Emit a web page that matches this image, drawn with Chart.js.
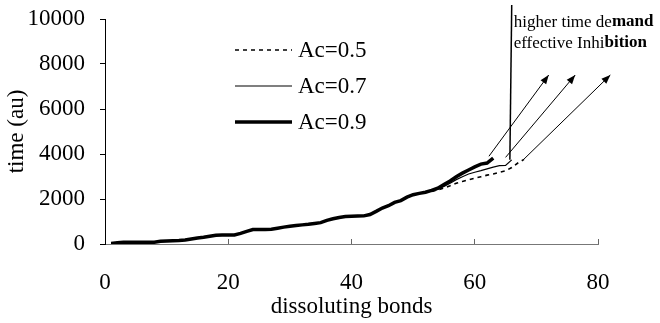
<!DOCTYPE html>
<html>
<head>
<meta charset="utf-8">
<script src="https://cdn.jsdelivr.net/npm/chart.js@4.4.0/dist/chart.umd.min.js"></script>
<style>
  html, body { margin: 0; padding: 0; background: #fff; }
</style>
</head>
<body>
<canvas id="timeChart" width="660" height="323"></canvas>
<script>
// dissoluting bonds (x) and time values
var bonds = [1, 2, 3, 4, 5, 6, 7, 8, 9, 10, 11, 12, 13, 14, 15, 16, 17, 18, 19, 20,
  21, 22, 23, 24, 25, 26, 27, 28, 29, 30, 31, 32, 33, 34, 35, 36, 37, 38, 39, 40,
  41, 42, 43, 44, 45, 46, 47, 48, 49, 50, 51, 52, 53, 54, 55, 56, 57, 58, 59, 60,
  61, 62, 63, 64, 65, 66, 67, 68];

// bonds 1..52, where the three curves lie on top of each other
var sharedTime = [20, 60, 75, 75, 75, 75, 75, 80, 125, 135, 145, 155, 175, 220, 265, 300,
  345, 390, 400, 400, 405, 470, 560, 640, 650, 650, 655, 700, 750, 790, 820, 850, 875,
  910, 950, 1050, 1120, 1180, 1220, 1230, 1240, 1250, 1310, 1450, 1600, 1700, 1850,
  1930, 2080, 2190, 2250, 2300];

// bonds 53.. for each curve
var tailAc05 = [2330, 2400, 2490, 2590, 2700, 2780, 2850, 2920, 2990, 3060, 3110, 3190, 3250, 3400, 3600, 3760];
var tailAc07 = [2350, 2430, 2560, 2700, 2860, 2990, 3110, 3190, 3260, 3340, 3420, 3480, 3490, 3740];
var tailAc09 = [2380, 2480, 2640, 2800, 2990, 3150, 3290, 3430, 3550, 3600, 3820];

var seriesLabels = ['Ac=0.5', 'Ac=0.7', 'Ac=0.9'];
var xTickValues = [0, 20, 40, 60, 80];
var yTickValues = [0, 2000, 4000, 6000, 8000, 10000];

// annotation: arrows [x0, y0, x1, y1], callout line and note text
var arrowLines = [[62.3, 3900, 72.0, 7510], [65.0, 3850, 76.3, 7510], [67.9, 3750, 82.0, 7510]];
var calloutLine = [[65.7, 3740], [66.0, 10620]];
var noteLines = [['higher time de', 'mand'], ['effective Inhi', 'bition']];

var SERIF = "'Liberation Serif', 'Times New Roman', serif";

function toPoints(values) {
    return values.map(function(v, i) { return {x: bonds[i], y: v}; });
}

var lineData = [
    toPoints(sharedTime.concat(tailAc05)),
    toPoints(sharedTime.concat(tailAc07)),
    toPoints(sharedTime.concat(tailAc09))
];

var datasets = [{
    label: seriesLabels[0], data: lineData[0],
    borderColor: '#000', borderWidth: 1.6, borderDash: [4, 4]
}, {
    label: seriesLabels[1], data: lineData[1],
    borderColor: '#000', borderWidth: 1.2
}, {
    label: seriesLabels[2], data: lineData[2],
    borderColor: '#000', borderWidth: 3.5
}];

arrowLines.forEach(function(a) {
    datasets.push({
        label: 'arrow', isArrow: true, clip: false,
        data: [{x: a[0], y: a[1]}, {x: a[2], y: a[3]}],
        borderColor: '#000', borderWidth: 1
    });
});
datasets.push({
    label: 'callout', isCallout: true, clip: false,
    data: calloutLine.map(function(p) { return {x: p[0], y: p[1]}; }),
    borderColor: '#000', borderWidth: 1.5
});

var annotationPlugin = {
    id: 'annotations',
    afterDatasetsDraw: function(chart) {
        var ctx = chart.ctx;
        var area = chart.chartArea;
        ctx.save();

        // arrow heads
        chart.data.datasets.forEach(function(ds, i) {
            if (!ds.isArrow) return;
            var pts = chart.getDatasetMeta(i).data;
            var p0 = pts[0], p1 = pts[1];
            var ang = Math.atan2(p1.y - p0.y, p1.x - p0.x);
            ctx.fillStyle = '#000';
            ctx.beginPath();
            ctx.moveTo(p1.x, p1.y);
            ctx.lineTo(p1.x - 9 * Math.cos(ang) + 3.5 * Math.sin(ang), p1.y - 9 * Math.sin(ang) - 3.5 * Math.cos(ang));
            ctx.lineTo(p1.x - 9 * Math.cos(ang) - 3.5 * Math.sin(ang), p1.y - 9 * Math.sin(ang) + 3.5 * Math.cos(ang));
            ctx.closePath();
            ctx.fill();
        });

        // note next to the callout line
        var cIdx = chart.data.datasets.findIndex(function(ds) { return ds.isCallout; });
        var top = chart.getDatasetMeta(cIdx).data[1];
        ctx.fillStyle = '#000';
        ctx.textBaseline = 'middle';
        ctx.textAlign = 'left';
        noteLines.forEach(function(parts, r) {
            var x = top.x + 2;
            var y = top.y + 17 + r * 21;
            ctx.font = '17px ' + SERIF;
            ctx.fillText(parts[0], x, y);
            x += ctx.measureText(parts[0]).width;
            ctx.font = 'bold 17px ' + SERIF;
            ctx.fillText(parts[1], x, y);
        });

        // legend inside the plot area
        var lx = area.left + 130;
        var ly = area.top + 31;
        for (var k = 0; k < 3; k++) {
            var ds = chart.data.datasets[k];
            var y = ly + k * 36;
            ctx.strokeStyle = ds.borderColor;
            ctx.lineWidth = ds.borderWidth;
            ctx.setLineDash(ds.borderDash || []);
            ctx.beginPath();
            ctx.moveTo(lx, y);
            ctx.lineTo(lx + 57, y);
            ctx.stroke();
            ctx.setLineDash([]);
            ctx.font = '23px ' + SERIF;
            ctx.fillText(ds.label, lx + 63, y + 1);
        }
        ctx.restore();
    }
};

var chart = new Chart(document.getElementById('timeChart').getContext('2d'), {
    type: 'line',
    data: {datasets: datasets},
    options: {
        responsive: false,
        animation: false,
        devicePixelRatio: 1,
        layout: {padding: {top: 19, right: 62, left: 0, bottom: 0}},
        elements: {point: {radius: 0}, line: {tension: 0, fill: false}},
        plugins: {legend: {display: false}, tooltip: {enabled: false}},
        scales: {
            x: {
                type: 'linear', min: 0, max: 80,
                afterBuildTicks: function(scale) {
                    scale.ticks = xTickValues.map(function(v) { return {value: v}; });
                },
                afterFit: function(scale) {
                    scale.height = 79;
                    scale.paddingLeft = 0;
                    scale.paddingRight = 0;
                },
                grid: {drawOnChartArea: false, tickLength: -5, color: '#666'},
                border: {display: true, color: '#777', width: 1},
                ticks: {color: '#000', padding: 30, maxRotation: 0, font: {family: SERIF, size: 23}},
                title: {display: true, text: 'dissoluting bonds', color: '#000',
                    padding: {top: 0, bottom: 2}, font: {family: SERIF, size: 23}}
            },
            y: {
                type: 'linear', min: 0, max: 10000,
                afterBuildTicks: function(scale) {
                    scale.ticks = yTickValues.map(function(v) { return {value: v}; });
                },
                afterFit: function(scale) {
                    scale.width = 105;
                    scale.paddingTop = 0;
                    scale.paddingBottom = 0;
                },
                grid: {drawOnChartArea: false, tickLength: 5, color: '#000'},
                border: {display: true, color: '#000', width: 1},
                ticks: {color: '#000', padding: 15, font: {family: SERIF, size: 23},
                    callback: function(v) { return String(v); }},
                title: {display: true, text: 'time (au)', color: '#000',
                    padding: {top: 3, bottom: 0}, font: {family: SERIF, size: 23}}
            }
        }
    },
    plugins: [annotationPlugin]
});
</script>
</body>
</html>
